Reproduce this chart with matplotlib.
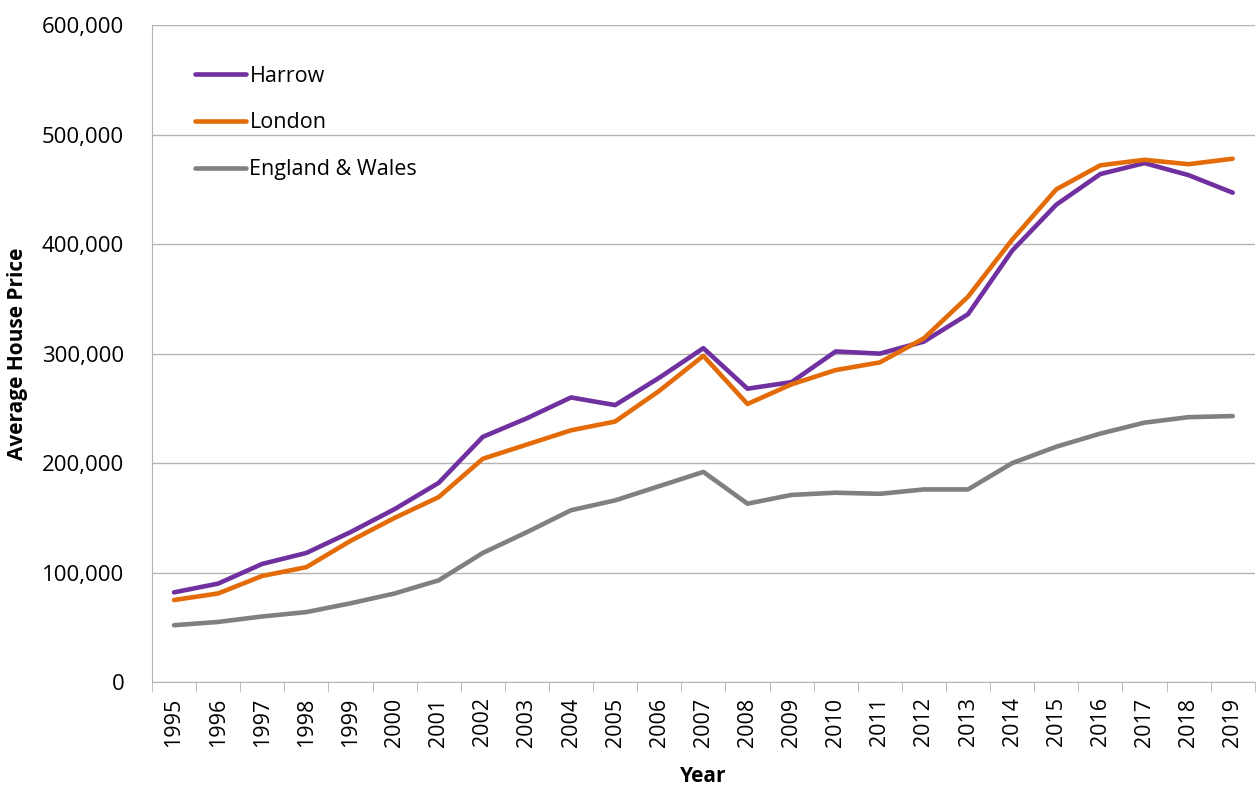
import matplotlib.pyplot as plt
import matplotlib.ticker as mticker
import numpy as np

plt.rcParams['font.family'] = ['Open Sans', 'DejaVu Sans']

years = list(range(1995, 2020))

harrow = [82, 90, 108, 118, 137, 158, 182, 224, 241, 260, 253, 278, 305,
          268, 274, 302, 300, 311, 336, 394, 436, 464, 474, 463, 447]
london = [75, 81, 97, 105, 129, 150, 169, 204, 217, 230, 238, 266, 298,
          254, 272, 285, 292, 314, 352, 404, 450, 472, 477, 473, 478]
eng_wales = [52, 55, 60, 64, 72, 81, 93, 118, 137, 157, 166, 179, 192,
             163, 171, 173, 172, 176, 176, 200, 215, 227, 237, 242, 243]

harrow = np.array(harrow) * 1000
london = np.array(london) * 1000
eng_wales = np.array(eng_wales) * 1000

fig = plt.figure(figsize=(12.56, 7.85), dpi=100)
ax = fig.add_axes([0.121, 0.131, 0.878, 0.837])

x = np.arange(len(years))
ax.plot(x, harrow, color='#7030A0', lw=3.3, label='Harrow', solid_capstyle='round')
ax.plot(x, london, color='#E36C09', lw=3.3, label='London', solid_capstyle='round')
ax.plot(x, eng_wales, color='#808080', lw=3.3, label='England & Wales', solid_capstyle='round')

ax.set_xlim(-0.5, len(years) - 0.5)
ax.set_ylim(0, 600000)
ax.yaxis.set_major_locator(mticker.MultipleLocator(100000))
ax.yaxis.set_major_formatter(mticker.FuncFormatter(lambda v, p: f'{int(v):,}'))
ax.grid(axis='y', color='#b3b3b3', lw=1)
ax.set_axisbelow(True)

ax.set_xticks(x)
ax.set_xticklabels([str(y) for y in years], rotation=90)
ax.set_xticks(np.arange(-0.5, len(years)), minor=True)
ax.tick_params(axis='x', which='major', length=0, pad=11, labelsize=15.5)
ax.tick_params(axis='x', which='minor', length=7, color='#b3b3b3')
ax.tick_params(axis='y', length=0, pad=20, labelsize=16)

for s in ['top', 'right']:
    ax.spines[s].set_visible(False)
for s in ['left', 'bottom']:
    ax.spines[s].set_color('#b3b3b3')

ax.set_xlabel('Year', fontsize=15, fontweight='bold', labelpad=14)
ax.set_ylabel('Average House Price', fontsize=15, fontweight='bold', labelpad=10)

ax.legend(loc='upper left', frameon=False, fontsize=15.5, handlelength=2.4,
          handletextpad=0.15, labelspacing=1.2, bbox_to_anchor=(0.021, 0.968))

fig.savefig('out.png', dpi=100)
